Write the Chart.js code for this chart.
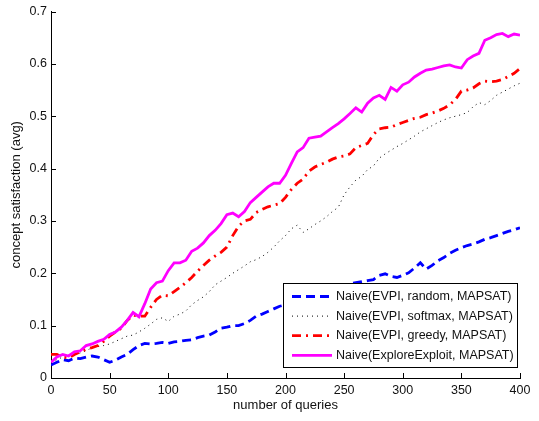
<!DOCTYPE html>
<html>
<head>
<meta charset="utf-8">
<script src="https://cdn.jsdelivr.net/npm/chart.js@4.4.0/dist/chart.umd.min.js"></script>
<style>
  html, body { margin: 0; padding: 0; background: #fff; }
  #wrap { width: 539px; height: 421px; }
</style>
</head>
<body>
<div id="wrap"><canvas id="chart" width="539" height="421"></canvas></div>
<script>
// number of queries (x positions of the samples)
const queries = [0, 5, 10, 15, 20, 25, 30, 35, 40, 45, 50, 55, 60, 65, 70, 75, 80, 85, 90, 95,
    100, 105, 110, 115, 120, 125, 130, 135, 140, 145, 150, 155, 160, 165, 170, 175, 180, 185, 190, 195,
    200, 205, 210, 215, 220, 225, 230, 235, 240, 245, 250, 255, 260, 265, 270, 275, 280, 285, 290, 295,
    300, 305, 310, 315, 320, 325, 330, 335, 340, 345, 350, 355, 360, 365, 370, 375, 380, 385, 390, 395, 400];

const evpiRandom = [0.025, 0.030, 0.035, 0.033, 0.038, 0.037, 0.040, 0.042, 0.040, 0.035,
    0.030, 0.034, 0.040, 0.045, 0.054, 0.062, 0.066, 0.065, 0.066, 0.068,
    0.066, 0.069, 0.070, 0.072, 0.073, 0.077, 0.080, 0.082, 0.088, 0.095,
    0.097, 0.100, 0.100, 0.104, 0.110, 0.118, 0.122, 0.127, 0.132, 0.137,
    0.140, 0.145, 0.148, 0.152, 0.155, 0.159, 0.162, 0.165, 0.168, 0.172,
    0.176, 0.180, 0.182, 0.184, 0.186, 0.188, 0.196, 0.199, 0.194, 0.192,
    0.196, 0.201, 0.210, 0.220, 0.208, 0.215, 0.224, 0.230, 0.238, 0.244,
    0.249, 0.253, 0.256, 0.260, 0.265, 0.268, 0.272, 0.276, 0.280, 0.283, 0.287];

const evpiSoftmax = [0.030, 0.035, 0.040, 0.042, 0.045, 0.048, 0.052, 0.058, 0.060, 0.062,
    0.065, 0.070, 0.075, 0.080, 0.082, 0.088, 0.095, 0.103, 0.112, 0.115,
    0.108, 0.118, 0.122, 0.128, 0.140, 0.148, 0.155, 0.165, 0.178, 0.185,
    0.192, 0.200, 0.207, 0.214, 0.222, 0.226, 0.232, 0.240, 0.250, 0.262,
    0.272, 0.285, 0.292, 0.278, 0.285, 0.293, 0.300, 0.308, 0.318, 0.326,
    0.350, 0.365, 0.378, 0.385, 0.398, 0.405, 0.420, 0.428, 0.435, 0.442,
    0.448, 0.455, 0.462, 0.470, 0.476, 0.482, 0.488, 0.493, 0.497, 0.500,
    0.503, 0.507, 0.518, 0.526, 0.522, 0.530, 0.540, 0.546, 0.552, 0.558, 0.563];

const evpiGreedy = [0.045, 0.045, 0.040, 0.038, 0.045, 0.050, 0.055, 0.058, 0.062, 0.070,
    0.080, 0.088, 0.095, 0.110, 0.120, 0.118, 0.118, 0.135, 0.150, 0.158,
    0.157, 0.165, 0.173, 0.182, 0.192, 0.204, 0.215, 0.225, 0.233, 0.240,
    0.250, 0.272, 0.290, 0.300, 0.303, 0.316, 0.322, 0.327, 0.330, 0.333,
    0.345, 0.360, 0.372, 0.380, 0.395, 0.403, 0.408, 0.412, 0.418, 0.422,
    0.424, 0.428, 0.440, 0.444, 0.448, 0.465, 0.476, 0.478, 0.479, 0.484,
    0.488, 0.492, 0.496, 0.498, 0.503, 0.506, 0.510, 0.515, 0.522, 0.532,
    0.548, 0.550, 0.554, 0.562, 0.567, 0.566, 0.567, 0.570, 0.576, 0.582, 0.591];

const exploreExploit = [0.030, 0.040, 0.045, 0.042, 0.050, 0.052, 0.062, 0.065, 0.070, 0.074,
    0.083, 0.088, 0.097, 0.110, 0.125, 0.117, 0.142, 0.170, 0.182, 0.185,
    0.205, 0.220, 0.220, 0.225, 0.242, 0.248, 0.258, 0.272, 0.282, 0.295,
    0.312, 0.315, 0.308, 0.318, 0.335, 0.345, 0.355, 0.365, 0.372, 0.372,
    0.387, 0.410, 0.432, 0.440, 0.458, 0.460, 0.462, 0.470, 0.478, 0.486,
    0.495, 0.505, 0.516, 0.508, 0.525, 0.535, 0.540, 0.532, 0.555, 0.548,
    0.560, 0.565, 0.575, 0.582, 0.588, 0.590, 0.593, 0.596, 0.598, 0.594,
    0.592, 0.608, 0.615, 0.620, 0.645, 0.650, 0.656, 0.658, 0.652, 0.657, 0.655];

const seriesNames = ['Naive(EVPI, random, MAPSAT)', 'Naive(EVPI, softmax, MAPSAT)',
    'Naive(EVPI, greedy, MAPSAT)', 'Naive(ExploreExploit, MAPSAT)'];

const xTicks = [0, 50, 100, 150, 200, 250, 300, 350, 400];
const yTicks = [0, 0.1, 0.2, 0.3, 0.4, 0.5, 0.6, 0.7];

const FONT = 'Liberation Sans, Arial, Helvetica, sans-serif';

function points(values) {
    return queries.map((q, i) => ({ x: q, y: values[i] }));
}

// MATLAB style inward tick marks
const inwardTicks = {
    id: 'inwardTicks',
    afterDatasetsDraw(chart) {
        const ctx = chart.ctx;
        const { left, bottom } = chart.chartArea;
        const xs = chart.scales.x, ys = chart.scales.y;
        ctx.save();
        ctx.strokeStyle = '#000';
        ctx.lineWidth = 1;
        ctx.beginPath();
        xTicks.forEach(t => {
            const px = Math.round(xs.getPixelForValue(t)) + 0.5;
            ctx.moveTo(px, bottom);
            ctx.lineTo(px, bottom - 5);
        });
        yTicks.forEach(t => {
            const py = Math.round(ys.getPixelForValue(t)) + 0.5;
            ctx.moveTo(left, py);
            ctx.lineTo(left + 5, py);
        });
        ctx.stroke();
        ctx.restore();
    }
};

// boxed legend inside the lower right of the plot
const boxLegend = {
    id: 'boxLegend',
    afterDatasetsDraw(chart) {
        const ctx = chart.ctx;
        const bx = 283.5, by = 283.5, bw = 234, bh = 84;
        ctx.save();
        ctx.fillStyle = '#fff';
        ctx.fillRect(bx, by, bw, bh);
        ctx.strokeStyle = '#000';
        ctx.lineWidth = 1;
        ctx.strokeRect(bx, by, bw, bh);
        ctx.font = '12.5px ' + FONT;
        ctx.textBaseline = 'middle';
        ctx.textAlign = 'left';
        chart.data.datasets.forEach((ds, i) => {
            const y = 296.5 + i * 19.6;
            ctx.save();
            ctx.strokeStyle = ds.borderColor;
            ctx.lineWidth = ds.borderWidth;
            ctx.setLineDash(ds.borderDash || []);
            ctx.beginPath();
            ctx.moveTo(292, y);
            ctx.lineTo(332, y);
            ctx.stroke();
            ctx.restore();
            ctx.fillStyle = '#111';
            ctx.fillText(ds.label, 336, y);
        });
        ctx.restore();
    }
};

new Chart(document.getElementById('chart'), {
    type: 'line',
    data: {
        datasets: [{
            label: seriesNames[0],
            data: points(evpiRandom),
            borderColor: '#0000FF',
            borderWidth: 2.8,
            borderDash: [9, 5],
            order: 4
        },
        {
            label: seriesNames[1],
            data: points(evpiSoftmax),
            borderColor: '#000000',
            borderWidth: 1,
            borderDash: [1, 4],
            order: 3
        },
        {
            label: seriesNames[2],
            data: points(evpiGreedy),
            borderColor: '#FF0000',
            borderWidth: 2.8,
            borderDash: [9, 5, 2, 5],
            order: 2
        },
        {
            label: seriesNames[3],
            data: points(exploreExploit),
            borderColor: '#FF00FF',
            borderWidth: 2.8,
            order: 1
        }]
    },
    options: {
        responsive: false,
        animation: false,
        devicePixelRatio: 1,
        elements: {
            point: { radius: 0 },
            line: { tension: 0, borderCapStyle: 'butt' }
        },
        layout: { padding: { left: 0, top: 8, right: 19, bottom: 0 } },
        plugins: {
            legend: { display: false },
            tooltip: { enabled: false }
        },
        scales: {
            x: {
                type: 'linear',
                min: 0,
                max: 400,
                afterFit: s => { s.height = 43; },
                afterBuildTicks: s => { s.ticks = xTicks.map(v => ({ value: v })); },
                grid: { display: true, drawOnChartArea: false, drawTicks: false },
                border: { display: true, color: '#000', width: 1 },
                ticks: {
                    padding: 5,
                    color: '#111',
                    maxRotation: 0,
                    font: { family: FONT, size: 12.5 }
                },
                title: {
                    display: true,
                    text: 'number of queries',
                    color: '#111',
                    padding: { top: 0, bottom: 8 },
                    font: { family: FONT, size: 13 }
                }
            },
            y: {
                min: 0,
                max: 0.7,
                afterFit: s => { s.width = 51; },
                afterBuildTicks: s => { s.ticks = yTicks.map(v => ({ value: v })); },
                grid: { display: true, drawOnChartArea: false, drawTicks: false },
                border: { display: true, color: '#000', width: 1 },
                ticks: {
                    padding: 4,
                    color: '#111',
                    font: { family: FONT, size: 12.5 }
                },
                title: {
                    display: true,
                    text: 'concept satisfaction (avg)',
                    color: '#111',
                    padding: { top: 9, bottom: 0 },
                    font: { family: FONT, size: 13 }
                }
            }
        }
    },
    plugins: [inwardTicks, boxLegend]
});
</script>
</body>
</html>
